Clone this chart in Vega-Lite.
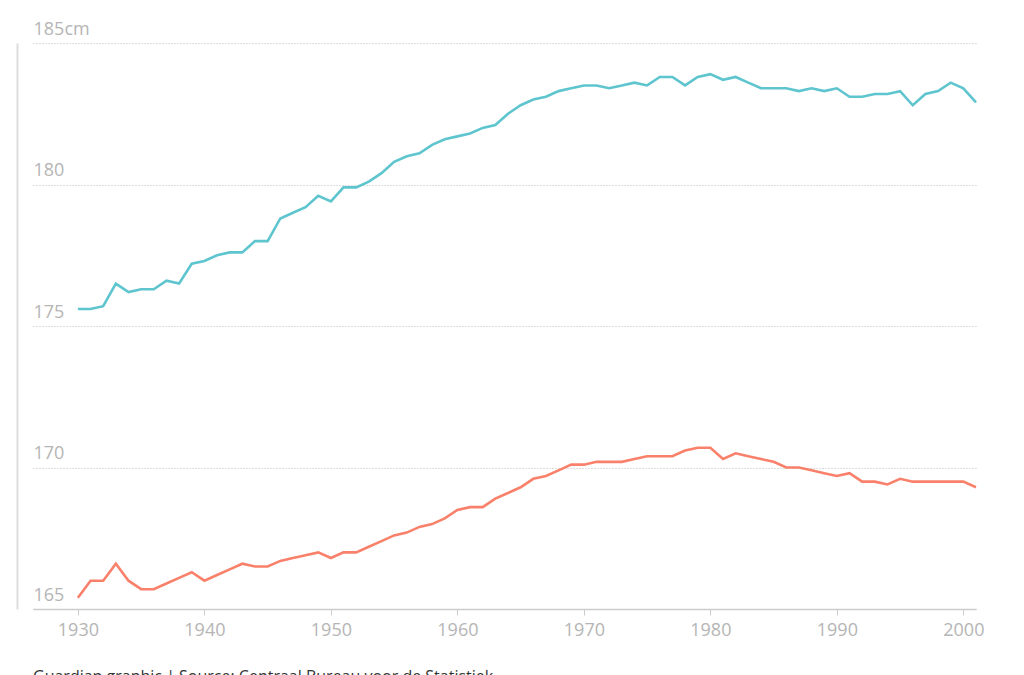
{
  "$schema": "https://vega.github.io/schema/vega-lite/v6.json",
  "width": 943,
  "height": 566,
  "autosize": "none",
  "padding": {"left": 33, "top": 43, "right": 48, "bottom": 66},
  "background": "#ffffff",
  "config": {"view": {"stroke": null}, "font": "Open Sans"},
  "title": {
    "text": "Guardian graphic | Source: Centraal Bureau voor de Statistiek",
    "orient": "bottom",
    "anchor": "start",
    "frame": "group",
    "fontSize": 16,
    "fontWeight": "normal",
    "color": "#333333",
    "offset": 30
  },
  "data": {
    "values": [
      {"year":1930,"sex":"Men","height":175.6},{"year":1931,"sex":"Men","height":175.6},{"year":1932,"sex":"Men","height":175.7},{"year":1933,"sex":"Men","height":176.5},{"year":1934,"sex":"Men","height":176.2},{"year":1935,"sex":"Men","height":176.3},{"year":1936,"sex":"Men","height":176.3},{"year":1937,"sex":"Men","height":176.6},{"year":1938,"sex":"Men","height":176.5},{"year":1939,"sex":"Men","height":177.2},
      {"year":1940,"sex":"Men","height":177.3},{"year":1941,"sex":"Men","height":177.5},{"year":1942,"sex":"Men","height":177.6},{"year":1943,"sex":"Men","height":177.6},{"year":1944,"sex":"Men","height":178.0},{"year":1945,"sex":"Men","height":178.0},{"year":1946,"sex":"Men","height":178.8},{"year":1947,"sex":"Men","height":179.0},{"year":1948,"sex":"Men","height":179.2},{"year":1949,"sex":"Men","height":179.6},
      {"year":1950,"sex":"Men","height":179.4},{"year":1951,"sex":"Men","height":179.9},{"year":1952,"sex":"Men","height":179.9},{"year":1953,"sex":"Men","height":180.1},{"year":1954,"sex":"Men","height":180.4},{"year":1955,"sex":"Men","height":180.8},{"year":1956,"sex":"Men","height":181.0},{"year":1957,"sex":"Men","height":181.1},{"year":1958,"sex":"Men","height":181.4},{"year":1959,"sex":"Men","height":181.6},
      {"year":1960,"sex":"Men","height":181.7},{"year":1961,"sex":"Men","height":181.8},{"year":1962,"sex":"Men","height":182.0},{"year":1963,"sex":"Men","height":182.1},{"year":1964,"sex":"Men","height":182.5},{"year":1965,"sex":"Men","height":182.8},{"year":1966,"sex":"Men","height":183.0},{"year":1967,"sex":"Men","height":183.1},{"year":1968,"sex":"Men","height":183.3},{"year":1969,"sex":"Men","height":183.4},
      {"year":1970,"sex":"Men","height":183.5},{"year":1971,"sex":"Men","height":183.5},{"year":1972,"sex":"Men","height":183.4},{"year":1973,"sex":"Men","height":183.5},{"year":1974,"sex":"Men","height":183.6},{"year":1975,"sex":"Men","height":183.5},{"year":1976,"sex":"Men","height":183.8},{"year":1977,"sex":"Men","height":183.8},{"year":1978,"sex":"Men","height":183.5},{"year":1979,"sex":"Men","height":183.8},
      {"year":1980,"sex":"Men","height":183.9},{"year":1981,"sex":"Men","height":183.7},{"year":1982,"sex":"Men","height":183.8},{"year":1983,"sex":"Men","height":183.6},{"year":1984,"sex":"Men","height":183.4},{"year":1985,"sex":"Men","height":183.4},{"year":1986,"sex":"Men","height":183.4},{"year":1987,"sex":"Men","height":183.3},{"year":1988,"sex":"Men","height":183.4},{"year":1989,"sex":"Men","height":183.3},
      {"year":1990,"sex":"Men","height":183.4},{"year":1991,"sex":"Men","height":183.1},{"year":1992,"sex":"Men","height":183.1},{"year":1993,"sex":"Men","height":183.2},{"year":1994,"sex":"Men","height":183.2},{"year":1995,"sex":"Men","height":183.3},{"year":1996,"sex":"Men","height":182.8},{"year":1997,"sex":"Men","height":183.2},{"year":1998,"sex":"Men","height":183.3},{"year":1999,"sex":"Men","height":183.6},
      {"year":2000,"sex":"Men","height":183.4},{"year":2001,"sex":"Men","height":182.9},
      {"year":1930,"sex":"Women","height":165.4},{"year":1931,"sex":"Women","height":166.0},{"year":1932,"sex":"Women","height":166.0},{"year":1933,"sex":"Women","height":166.6},{"year":1934,"sex":"Women","height":166.0},{"year":1935,"sex":"Women","height":165.7},{"year":1936,"sex":"Women","height":165.7},{"year":1937,"sex":"Women","height":165.9},{"year":1938,"sex":"Women","height":166.1},{"year":1939,"sex":"Women","height":166.3},
      {"year":1940,"sex":"Women","height":166.0},{"year":1941,"sex":"Women","height":166.2},{"year":1942,"sex":"Women","height":166.4},{"year":1943,"sex":"Women","height":166.6},{"year":1944,"sex":"Women","height":166.5},{"year":1945,"sex":"Women","height":166.5},{"year":1946,"sex":"Women","height":166.7},{"year":1947,"sex":"Women","height":166.8},{"year":1948,"sex":"Women","height":166.9},{"year":1949,"sex":"Women","height":167.0},
      {"year":1950,"sex":"Women","height":166.8},{"year":1951,"sex":"Women","height":167.0},{"year":1952,"sex":"Women","height":167.0},{"year":1953,"sex":"Women","height":167.2},{"year":1954,"sex":"Women","height":167.4},{"year":1955,"sex":"Women","height":167.6},{"year":1956,"sex":"Women","height":167.7},{"year":1957,"sex":"Women","height":167.9},{"year":1958,"sex":"Women","height":168.0},{"year":1959,"sex":"Women","height":168.2},
      {"year":1960,"sex":"Women","height":168.5},{"year":1961,"sex":"Women","height":168.6},{"year":1962,"sex":"Women","height":168.6},{"year":1963,"sex":"Women","height":168.9},{"year":1964,"sex":"Women","height":169.1},{"year":1965,"sex":"Women","height":169.3},{"year":1966,"sex":"Women","height":169.6},{"year":1967,"sex":"Women","height":169.7},{"year":1968,"sex":"Women","height":169.9},{"year":1969,"sex":"Women","height":170.1},
      {"year":1970,"sex":"Women","height":170.1},{"year":1971,"sex":"Women","height":170.2},{"year":1972,"sex":"Women","height":170.2},{"year":1973,"sex":"Women","height":170.2},{"year":1974,"sex":"Women","height":170.3},{"year":1975,"sex":"Women","height":170.4},{"year":1976,"sex":"Women","height":170.4},{"year":1977,"sex":"Women","height":170.4},{"year":1978,"sex":"Women","height":170.6},{"year":1979,"sex":"Women","height":170.7},
      {"year":1980,"sex":"Women","height":170.7},{"year":1981,"sex":"Women","height":170.3},{"year":1982,"sex":"Women","height":170.5},{"year":1983,"sex":"Women","height":170.4},{"year":1984,"sex":"Women","height":170.3},{"year":1985,"sex":"Women","height":170.2},{"year":1986,"sex":"Women","height":170.0},{"year":1987,"sex":"Women","height":170.0},{"year":1988,"sex":"Women","height":169.9},{"year":1989,"sex":"Women","height":169.8},
      {"year":1990,"sex":"Women","height":169.7},{"year":1991,"sex":"Women","height":169.8},{"year":1992,"sex":"Women","height":169.5},{"year":1993,"sex":"Women","height":169.5},{"year":1994,"sex":"Women","height":169.4},{"year":1995,"sex":"Women","height":169.6},{"year":1996,"sex":"Women","height":169.5},{"year":1997,"sex":"Women","height":169.5},{"year":1998,"sex":"Women","height":169.5},{"year":1999,"sex":"Women","height":169.5},
      {"year":2000,"sex":"Women","height":169.5},{"year":2001,"sex":"Women","height":169.3}
    ]
  },
  "mark": {"type": "line", "strokeWidth": 2.6, "clip": false},
  "encoding": {
    "x": {
      "field": "year",
      "type": "quantitative",
      "scale": {"domain": [1926.45, 2001], "nice": false, "zero": false},
      "axis": {
        "title": null,
        "values": [1930, 1940, 1950, 1960, 1970, 1980, 1990, 2000],
        "format": "d",
        "grid": false,
        "tickSize": 6,
        "tickColor": "#cccccc",
        "domainColor": "#cccccc",
        "domainWidth": 1.5,
        "labelColor": "#b5b5b5",
        "labelFontSize": 18,
        "labelPadding": 6,
        "labelFlush": false,
        "labelOverlap": false
      }
    },
    "y": {
      "field": "height",
      "type": "quantitative",
      "scale": {"domain": [165, 185], "nice": false, "zero": false},
      "axis": {
        "title": null,
        "values": [165, 170, 175, 180, 185],
        "labelExpr": "datum.value == 185 ? '185cm' : datum.label",
        "grid": true,
        "gridDash": [1, 2],
        "gridColor": "#bdbdbd",
        "gridWidth": 1,
        "tickSize": 0,
        "domain": true,
        "domainColor": "#dddddd",
        "domainWidth": 2,
        "offset": 16,
        "labelAlign": "left",
        "labelBaseline": "alphabetic",
        "labelPadding": -16,
        "labelOffset": -9,
        "labelColor": "#b5b5b5",
        "labelFontSize": 18
      }
    },
    "color": {
      "field": "sex",
      "type": "nominal",
      "scale": {"domain": ["Men", "Women"], "range": ["#5ec5cf", "#f9806a"]},
      "legend": {
        "title": null,
        "orient": "top",
        "direction": "horizontal",
        "symbolType": "circle",
        "symbolSize": 100,
        "symbolStrokeWidth": 8,
        "symbolOpacity": 1,
        "labelFontSize": 11,
        "labelColor": "#333333",
        "padding": 0,
        "offset": 36,
        "columnPadding": 24
      }
    }
  }
}
